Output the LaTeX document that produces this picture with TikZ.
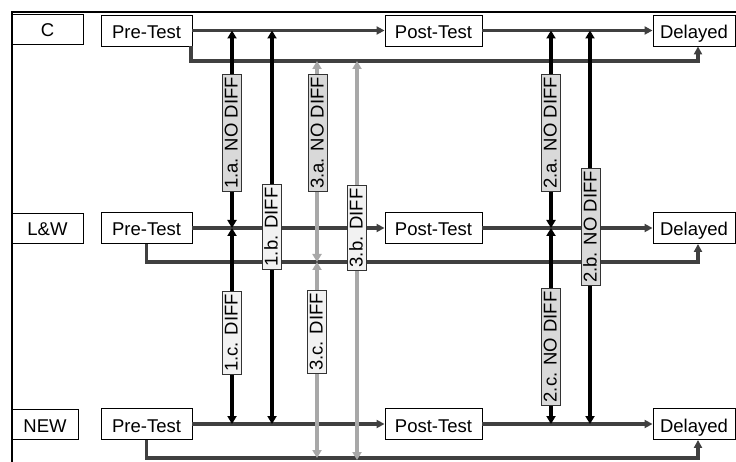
\documentclass[tikz,border=0pt]{standalone}
\usepackage{fontspec}
\setmainfont{Liberation Sans}
\usetikzlibrary{arrows.meta}
\definecolor{hline}{HTML}{404040}
\definecolor{gline}{HTML}{A8A8A8}
\definecolor{ndfill}{HTML}{D9D9D9}
\definecolor{dfill}{HTML}{F2F2F2}
\tikzset{
  box/.style={draw=black, line width=0.9pt, fill=white, inner sep=0pt, minimum height=31pt,
    text height=16pt, text depth=0pt, font=\fontsize{18.5}{20}\selectfont},
  hflow/.style={draw=hline, line width=3.5pt, -{Triangle[length=8pt,width=8pt]}},
  blk/.style={draw=black, line width=3.5pt, {Triangle[length=8pt,width=9pt]}-{Triangle[length=8pt,width=9pt]}},
  gry/.style={draw=gline, line width=3.2pt, {Triangle[length=8pt,width=9pt]}-{Triangle[length=8pt,width=9pt]}},
  lab/.style={draw=black!80, line width=0.9pt, rotate=90, inner xsep=3pt, inner ysep=0pt,
    text height=15pt, text depth=4pt, font=\fontsize{18.5}{20}\selectfont},
  nd/.style={lab, fill=ndfill},
  df/.style={lab, fill=dfill}
}
\begin{document}
\begin{tikzpicture}[x=1pt,y=-1pt]
\useasboundingbox (0,0) rectangle (736,462);
% frame
\draw[line width=2.5pt] (12,470) -- (12,12) -- (745,12);

% row labels
\node[box, minimum width=71pt, minimum height=30pt] (gC) at (47.5,29) {C};
\node[box, minimum width=71pt, minimum height=30pt] (gL) at (47.5,228) {L\&W};
\node[box, minimum width=66pt, minimum height=30pt] (gN) at (45,424) {NEW};

% test boxes
\node[box, minimum width=91pt] (preC) at (146.5,30.5) {Pre-Test};
\node[box, minimum width=97pt] (postC) at (433.5,30.5) {Post-Test};
\node[box, minimum width=82pt] (delC) at (694,30.5) {Delayed};
\node[box, minimum width=91pt] (preL) at (146.5,228) {Pre-Test};
\node[box, minimum width=97pt] (postL) at (433.5,228) {Post-Test};
\node[box, minimum width=82pt] (delL) at (694,228) {Delayed};
\node[box, minimum width=91pt] (preN) at (146.5,424) {Pre-Test};
\node[box, minimum width=97pt] (postN) at (433.5,424) {Post-Test};
\node[box, minimum width=82pt] (delN) at (694,424) {Delayed};

% level coordinates
\coordinate (c2) at (0,61);
\coordinate (l2) at (0,262);
\coordinate (n2) at (0,458);
\coordinate (dx) at (698,0);

% horizontal flows
\draw[hflow] (preC) -- (postC);
\draw[hflow] (postC) -- (delC);
\draw[hflow] (preL) -- (postL);
\draw[hflow] (postL) -- (delL);
\draw[hflow] (preN) -- (postN);
\draw[hflow] (postN) -- (delN);
\draw[hflow] ([xshift=-1.5pt]preC.south east) |- (dx |- c2) -- (dx |- delC.south);
\draw[hflow] (preL.south) |- (dx |- l2) -- (dx |- delL.south);
\draw[hflow] (preN.south) |- (dx |- n2) -- (dx |- delN.south);

% vertical comparison coordinates
\coordinate (x1) at (232,0);
\coordinate (x1b) at (272,0);
\coordinate (x3) at (317,0);
\coordinate (x3b) at (357,0);
\coordinate (x2) at (551,0);
\coordinate (x2b) at (590,0);

% black comparisons
\draw[blk] (x1 |- preC.east) -- (x1 |- preL.east);
\draw[blk] (x1 |- preL.east) -- (x1 |- preN.east);
\draw[blk] (x1b |- preC.east) -- (x1b |- preN.east);
\draw[blk] (x2 |- postC.east) -- (x2 |- postL.east);
\draw[blk] (x2 |- postL.east) -- (x2 |- postN.east);
\draw[blk] (x2b |- postC.east) -- (x2b |- postN.east);
% gray comparisons
\draw[gry] (x3 |- c2) -- (x3 |- l2);
\draw[gry] (x3 |- l2) -- (x3 |- n2);
\draw[gry] (x3b |- c2) -- ([yshift=-2pt]x3b |- n2);

% labels
\node[nd] (l1a) at (232,133) {1.a. NO DIFF};
\node[df] (l1b) at (272,227) {1.b. DIFF};
\node[df] (l1c) at (232,333) {1.c. DIFF};
\node[nd] (l3a) at (318,133) {3.a. NO DIFF};
\node[df] (l3b) at (357,228) {3.b. DIFF};
\node[df] (l3c) at (317,332) {3.c. DIFF};
\node[nd] (l2a) at (551,133) {2.a. NO DIFF};
\node[nd] (l2b) at (591,227) {2.b. NO DIFF};
\node[nd] (l2c) at (551,347) {2.c. NO DIFF};
\end{tikzpicture}
\end{document}
